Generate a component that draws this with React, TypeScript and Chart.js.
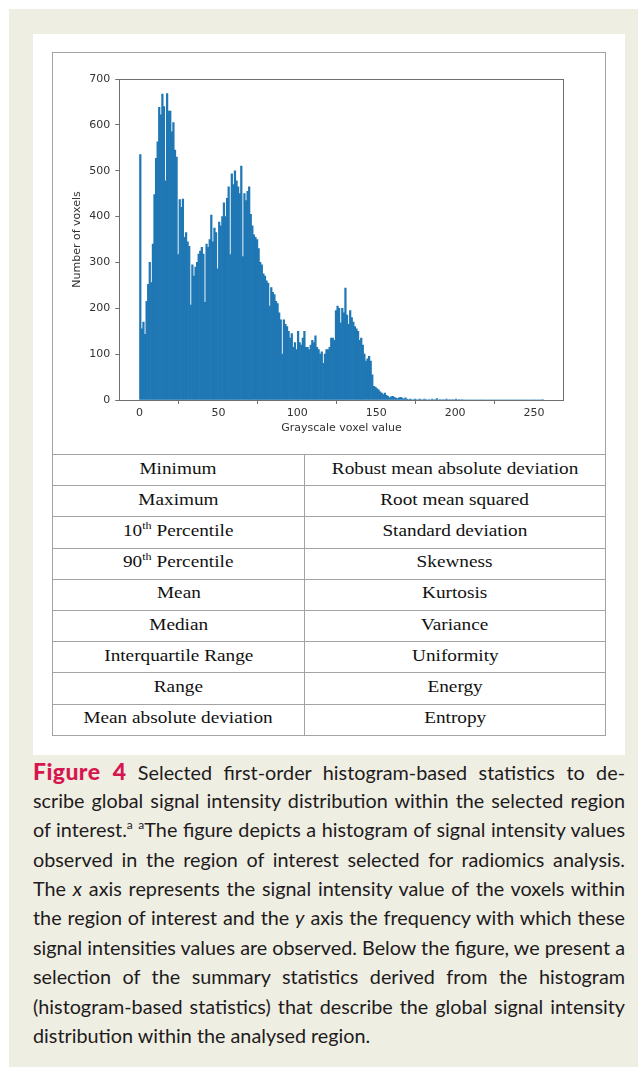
import React, { useEffect, useRef } from "react";
import { Chart, registerables } from "chart.js";

Chart.register(...registerables);

// Histogram: count of voxels per grayscale bin (bin i spans [i, i+1))
const firstBin = 0;
const binWidth = 1;
const counts: number[] = [
  535, 155, 170, 143, 215, 252, 300, 256, 340, 448,
  527, 563, 638, 622, 667, 640, 478, 668, 630, 630,
  585, 605, 545, 530, 317, 437, 420, 438, 355, 365,
  345, 335, 207, 295, 270, 290, 300, 318, 325, 333,
  318, 213, 340, 333, 350, 403, 345, 375, 365, 286,
  388, 380, 400, 430, 400, 440, 465, 317, 493, 470,
  500, 478, 465, 450, 510, 313, 450, 435, 455, 465,
  405, 380, 360, 355, 350, 330, 300, 295, 275, 270,
  260, 255, 205, 245, 235, 230, 215, 210, 190, 175,
  100, 175, 165, 160, 150, 135, 145, 115, 125, 110,
  150, 125, 120, 135, 150, 115, 115, 110, 120, 130,
  125, 140, 115, 110, 100, 105, 80, 100, 110, 110,
  115, 135, 135, 130, 195, 205, 200, 168, 200, 190,
  244, 185, 165, 195, 180, 170, 160, 155, 150, 130,
  135, 120, 100, 85, 90, 95, 85, 55, 30, 28,
  25, 22, 18, 15, 12, 15, 10, 8, 5, 7,
  8, 6, 4, 3, 5, 6, 4, 2, 5, 2,
  1, 2, 1, 0, 2, 1, 0, 2, 1, 0,
  2, 1, 0, 1, 0, 2, 0, 1, 3, 0,
  1, 0, 1, 0, 2, 0, 1, 0, 1, 0,
  2, 0, 1, 0, 1, 0, 0, 0, 0, 0,
  0, 0, 0, 0, 0, 0, 0, 0, 0, 0,
  0, 0, 0, 0, 0, 0, 0, 0, 0, 0,
  0, 0, 0, 0, 0, 0, 0, 0, 0, 0,
  0, 0, 0, 0, 0, 0, 0, 0, 0, 0,
  0, 0, 0, 0, 0, 1,
];

const xTicks = [0, 50, 100, 150, 200, 250];
const yTicks = [0, 100, 200, 300, 400, 500, 600, 700];
const xLimits = [-12.8, 268.8];
const yLimits = [0, 700];
const xTitle = "Grayscale voxel value";
const yTitle = "Number of voxels";

const leftStats = [
  "Minimum",
  "Maximum",
  "10th Percentile",
  "90th Percentile",
  "Mean",
  "Median",
  "Interquartile Range",
  "Range",
  "Mean absolute deviation",
];
const rightStats = [
  "Robust mean absolute deviation",
  "Root mean squared",
  "Standard deviation",
  "Skewness",
  "Kurtosis",
  "Variance",
  "Uniformity",
  "Energy",
  "Entropy",
];

const BAR = "#1f77b4";
const AXIS = "#6f6f6f";
const TEXT = "#333333";
const RULE = "#a3a3a3";

const framePlugin = {
  id: "frame",
  afterDraw(chart: any) {
    const { ctx, chartArea } = chart;
    const { left, top, right, bottom } = chartArea;
    ctx.save();
    ctx.strokeStyle = AXIS;
    ctx.lineWidth = 1;
    ctx.strokeRect(Math.round(left) + 0.5, Math.round(top) + 0.5, Math.round(right - left), Math.round(bottom - top));
    ctx.restore();
  },
};

function StatText({ text }: { text: string }) {
  const m = text.match(/^(\d+)th (.*)$/);
  const inner = m ? (
    <>
      {m[1]}
      <sup style={{ fontSize: "11px", verticalAlign: "7px", lineHeight: 0 }}>th</sup> {m[2]}
    </>
  ) : (
    text
  );
  return (
    <span
      style={{
        display: "inline-block",
        transform: "scaleX(1.1)",
        whiteSpace: "nowrap",
        position: "relative",
        top: -2,
      }}
    >
      {inner}
    </span>
  );
}

function HistChart() {
  const ref = useRef<HTMLCanvasElement | null>(null);
  useEffect(() => {
    if (!ref.current) return;
    const font = { family: "'DejaVu Sans'", size: 11 };
    const chart = new Chart(ref.current, {
      type: "bar",
      data: {
        datasets: [
          {
            data: counts.map((c, i) => ({ x: firstBin + i * binWidth + binWidth / 2, y: c })),
            backgroundColor: BAR,
            borderWidth: 0,
            barPercentage: 1,
            categoryPercentage: 1,
          } as any,
        ],
      },
      options: {
        responsive: false,
        animation: false,
        events: [],
        layout: { padding: { left: 0, right: 41.3, top: 26, bottom: 0 } },
        plugins: { legend: { display: false }, tooltip: { enabled: false } },
        scales: {
          x: {
            type: "linear",
            min: xLimits[0],
            max: xLimits[1],
            offset: false,
            afterBuildTicks: (s: any) => {
              s.ticks = xTicks.map((v) => ({ value: v }));
            },
            afterFit: (s: any) => {
              s.height = 54;
            },
            grid: { drawOnChartArea: false, drawTicks: true, tickLength: 4, tickColor: AXIS },
            border: { display: false },
            ticks: { font, color: TEXT, padding: 3, maxRotation: 0, autoSkip: false },
            title: { display: true, text: xTitle, font, color: TEXT, padding: { top: 0, bottom: 19 } },
          },
          y: {
            type: "linear",
            min: yLimits[0],
            max: yLimits[1],
            afterBuildTicks: (s: any) => {
              s.ticks = yTicks.map((v) => ({ value: v }));
            },
            afterFit: (s: any) => {
              s.width = 66.3;
            },
            grid: { drawOnChartArea: false, drawTicks: true, tickLength: 4, tickColor: AXIS },
            border: { display: false },
            ticks: { font, color: TEXT, padding: 5, autoSkip: false },
            title: { display: true, text: yTitle, font, color: TEXT, padding: { top: 18, bottom: 0 } },
          },
        },
      } as any,
      plugins: [framePlugin],
    });
    return () => chart.destroy();
  }, []);
  return <canvas ref={ref} width={552} height={401} style={{ display: "block", width: 552, height: 401 }} />;
}

const capLine: React.CSSProperties = {
  height: 29.4,
  lineHeight: "29.4px",
  textAlign: "justify",
  textAlignLast: "justify" as any,
  overflow: "visible",
};

export default function App() {
  const rowH = 31.2;
  return (
    <div style={{ position: "absolute", left: 0, top: 0, width: 638, height: 1067, overflow: "hidden" }}>
      <div style={{ position: "absolute", left: 9, top: 9, width: 629, height: 1058, background: "#efeee3" }} />
      <div style={{ position: "absolute", left: 33, top: 34, width: 592, height: 721, background: "#ffffff" }} />
      <div
        style={{
          position: "absolute",
          left: 52,
          top: 52,
          width: 554,
          boxSizing: "border-box",
          border: `1px solid ${RULE}`,
          background: "#fff",
        }}
      >
        <HistChart />
        {leftStats.map((l, i) => (
          <div
            key={i}
            style={{
              display: "flex",
              height: rowH,
              boxSizing: "border-box",
              borderTop: `1px solid ${RULE}`,
              fontFamily: "'Liberation Serif', serif",
              fontSize: "17.5px",
              color: "#111",
            }}
          >
            <div
              style={{
                width: 252,
                boxSizing: "border-box",
                borderRight: `1px solid ${RULE}`,
                display: "flex",
                alignItems: "center",
                justifyContent: "center",
              }}
            >
              <StatText text={l} />
            </div>
            <div style={{ flex: 1, display: "flex", alignItems: "center", justifyContent: "center" }}>
              <StatText text={rightStats[i]} />
            </div>
          </div>
        ))}
      </div>
      <div
        style={{
          position: "absolute",
          left: 33,
          top: 756.5,
          width: 592,
          fontFamily: "Lato, sans-serif",
          fontSize: "19.8px",
          color: "#1e1b1c",
        }}
      >
        <div style={capLine}>
          <span style={{ color: "#d6174f", fontWeight: 900, fontSize: "23px", letterSpacing: "0.4px" }}>Figure 4</span>{" "}
          Selected first-order histogram-based statistics to de-
        </div>
        <div style={capLine}>scribe global signal intensity distribution within the selected region</div>
        <div style={capLine}>
          of interest.<sup style={{ fontSize: "12px", lineHeight: 0 }}>a</sup>{" "}
          <sup style={{ fontSize: "12px", lineHeight: 0 }}>a</sup>The figure depicts a histogram of signal intensity
          values
        </div>
        <div style={capLine}>observed in the region of interest selected for radiomics analysis.</div>
        <div style={capLine}>
          The <i>x</i> axis represents the signal intensity value of the voxels within
        </div>
        <div style={capLine}>
          the region of interest and the <i>y</i> axis the frequency with which these
        </div>
        <div style={capLine}>signal intensities values are observed. Below the figure, we present a</div>
        <div style={capLine}>selection of the summary statistics derived from the histogram</div>
        <div style={capLine}>(histogram-based statistics) that describe the global signal intensity</div>
        <div style={{ ...capLine, textAlign: "left", textAlignLast: "left" as any }}>
          distribution within the analysed region.
        </div>
      </div>
    </div>
  );
}
